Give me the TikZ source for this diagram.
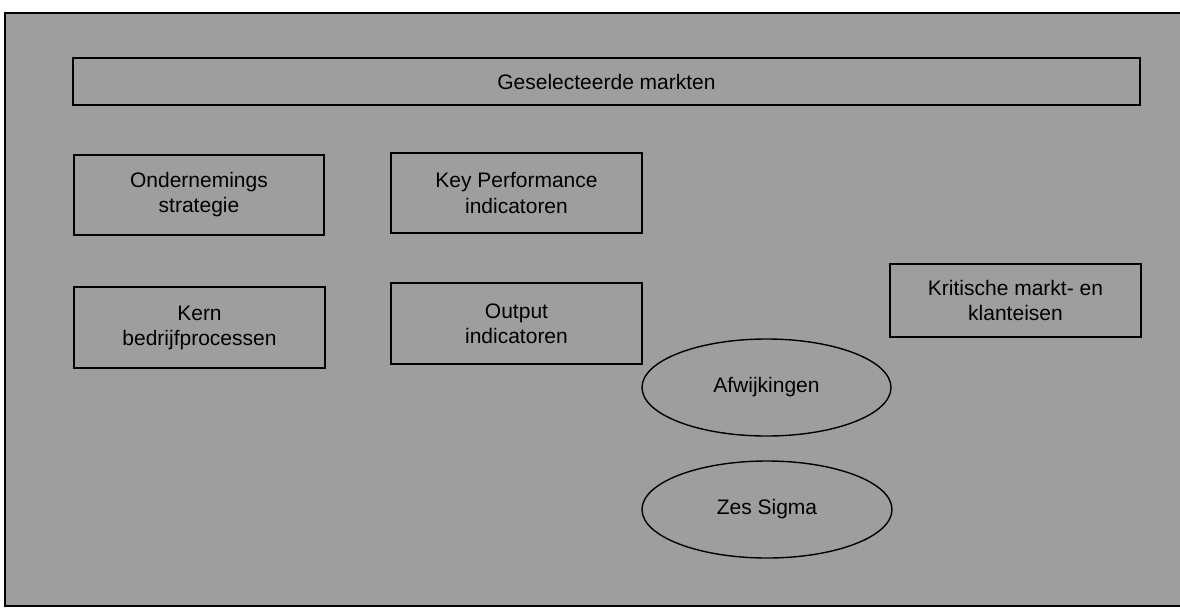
\documentclass[tikz,border=0pt]{standalone}
\usepackage{fontspec}
\setmainfont{Liberation Sans}
\usetikzlibrary{shapes.geometric}
\definecolor{panel}{RGB}{158,158,158}
\tikzset{
  stepbox/.style={draw=black, line width=1.6pt, fill=panel, inner sep=0pt,
    align=center, font=\fontsize{21}{25}\selectfont},
  oval/.style={draw=black, line width=1.4pt, fill=panel, ellipse, inner sep=0pt,
    align=center, font=\fontsize{21}{25}\selectfont},
}
\begin{document}
\begin{tikzpicture}[x=1pt, y=-1pt]
  \useasboundingbox (0,0) rectangle (1180,608);
  \fill[white] (0,0) rectangle (1180,608);
  % outer panel
  \draw[line width=1.8pt, fill=panel] (1190,13) -- (5,13) -- (5,606) -- (1190,606);

  % market bar
  \node[stepbox, minimum width=1067pt, minimum height=47pt] (markets) at (606.5,81.5) {Geselecteerde markten};

  % left column
  \node[stepbox, minimum width=250pt, minimum height=80pt] (strategy) at (199,195) {Ondernemings\\strategie};
  \node[stepbox, minimum width=251pt, minimum height=81pt] (core) at (199.5,327.5) {Kern\\bedrijfprocessen};

  % middle column
  \node[stepbox, minimum width=251pt, minimum height=80pt] (kpi) at (516.5,193) {Key Performance\\indicatoren};
  \node[stepbox, minimum width=251pt, minimum height=81pt] (output) at (516.5,323.5) {Output\\indicatoren};

  % right column
  \node[stepbox, minimum width=251pt, minimum height=73pt] (demands) at (1015.5,300.5) {Kritische markt- en\\klanteisen};

  % ellipses
  \node[oval, minimum width=249pt, minimum height=97pt] (deviations) at (766.5,387.5) {Afwijkingen};
  \node[oval, minimum width=250pt, minimum height=97pt] (sixsigma) at (767,509.5) {Zes Sigma};
\end{tikzpicture}
\end{document}
